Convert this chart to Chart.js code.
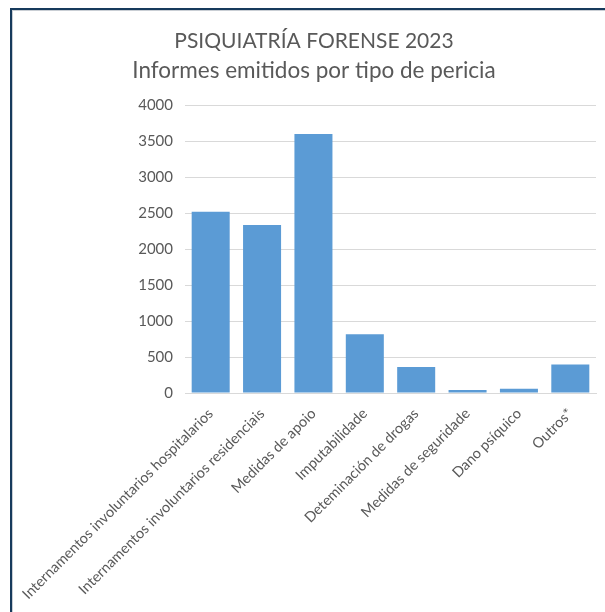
<!DOCTYPE html>
<html>
<head>
<meta charset="utf-8">
<script src="https://cdn.jsdelivr.net/npm/chart.js@4/dist/chart.umd.min.js"></script>
<style>
  html, body { margin: 0; padding: 0; background: #fff; width: 605px; height: 612px; overflow: hidden; }
  #frame { position: absolute; left: 10px; top: 8px; width: 600px; height: 610px;
           border-top: 2px solid #163a5c; border-left: 2px solid #163a5c;
           box-shadow: inset 1px 1px 0 #c9ced4; }
  #wrap { position: absolute; left: 13px; top: 10px; width: 592px; height: 602px; }
</style>
</head>
<body>
<div id="frame"></div>
<div id="wrap"><canvas id="c" width="592" height="602"></canvas></div>
<script>
const titleText = "PSIQUIATRÍA FORENSE 2023";
const subtitleText = "Informes emitidos por tipo de pericia";
const categories = [
  "Internamentos involuntarios hospitalarios",
  "Internamentos involuntarios residenciais",
  "Medidas de apoio",
  "Imputabilidade",
  "Deteminación de drogas",
  "Medidas de seguridade",
  "Dano psíquico",
  "Outros*"
];
const informes = [2520, 2335, 3600, 815, 361, 42, 60, 397];
const yMin = 0, yMax = 4000, yStep = 500;

const FONT = "Lato";
const GRAY = "#595959";

new Chart(document.getElementById("c"), {
  type: "bar",
  data: {
    labels: categories,
    datasets: [{
      label: "Informes",
      data: informes,
      backgroundColor: "#5b9bd5",
      borderWidth: 0,
      categoryPercentage: 1.0,
      barPercentage: 0.74
    }]
  },
  options: {
    responsive: false,
    animation: false,
    layout: { padding: { left: 19, right: 9, top: 0, bottom: 0 } },
    plugins: {
      legend: { display: false },
      tooltip: { enabled: false },
      title: {
        display: true,
        text: titleText,
        color: GRAY,
        font: { family: FONT, size: 21, weight: "normal", lineHeight: 1.38 },
        padding: { top: 17, bottom: 0 }
      },
      subtitle: {
        display: true,
        text: subtitleText,
        color: GRAY,
        font: { family: FONT, size: 22.5, weight: "normal", lineHeight: 1.3 },
        padding: { top: 0, bottom: 20 }
      }
    },
    scales: {
      x: {
        grid: { display: false },
        border: { display: true, color: "#d9d9d9", width: 1 },
        ticks: {
          color: GRAY,
          font: { family: FONT, size: 14.5 },
          minRotation: 45, maxRotation: 45,
          autoSkip: false,
          padding: 4
        },
        afterFit: (s) => { s.height = 219; s.paddingLeft = 0; s.paddingRight = 0; }
      },
      y: {
        min: yMin, max: yMax,
        border: { display: false },
        grid: { color: "#d9d9d9", lineWidth: 1, drawTicks: false },
        ticks: {
          stepSize: yStep,
          color: GRAY,
          font: { family: FONT, size: 15 },
          padding: 12,
          callback: (v) => String(v)
        },
        afterFit: (s) => { s.width = 153; }
      }
    }
  }
});
</script>
</body>
</html>
